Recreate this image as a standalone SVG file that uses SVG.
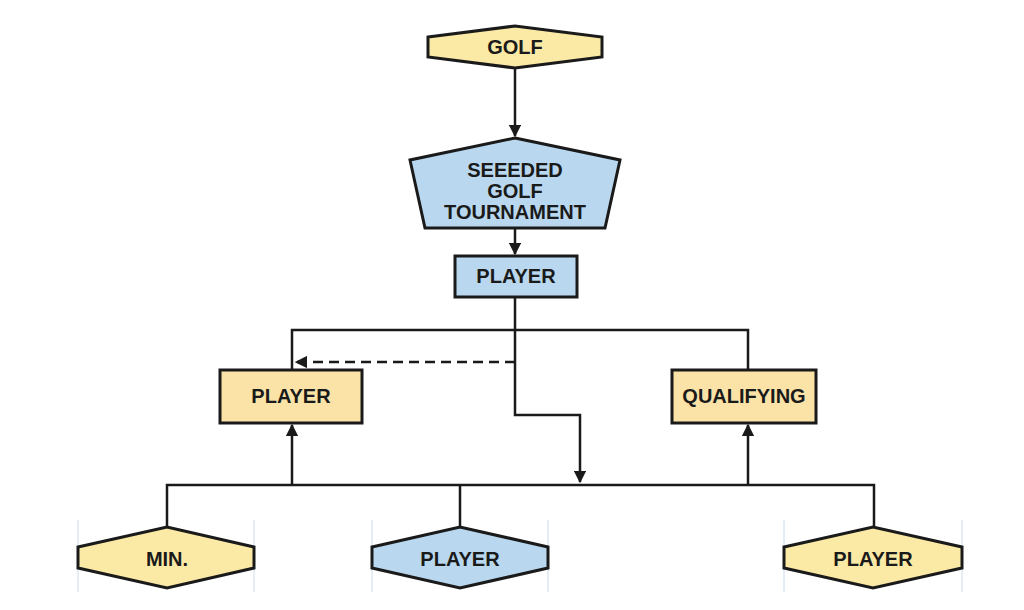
<svg xmlns="http://www.w3.org/2000/svg" width="1024" height="610" viewBox="0 0 1024 610">
<defs>
<style>
.y{fill:#fbe9a6;stroke:#1a1a1a;stroke-width:3}
.b{fill:#b9d8ef;stroke:#1a1a1a;stroke-width:3}
.o{fill:#fbe3a8;stroke:#1a1a1a;stroke-width:3}
.t{font-family:"Liberation Sans",Arial,sans-serif;font-weight:bold;font-size:20px;fill:#1a1a1a;text-anchor:middle}
.c{fill:none;stroke:#1a1a1a;stroke-width:2.5}
.g{stroke:#c9dcec;stroke-width:1}
</style>
<marker id="a" viewBox="0 0 10 10" refX="9" refY="5" markerWidth="5" markerHeight="5" orient="auto"><path d="M0,0L10,5L0,10z" fill="#1a1a1a"/></marker>
</defs>
<rect width="1024" height="610" fill="#fff"/>
<g id="guides">
<line class="g" x1="78" y1="520" x2="78" y2="592"/><line class="g" x1="254" y1="520" x2="254" y2="592"/>
<line class="g" x1="372" y1="520" x2="372" y2="592"/><line class="g" x1="548" y1="520" x2="548" y2="592"/>
<line class="g" x1="784" y1="520" x2="784" y2="592"/><line class="g" x1="962" y1="520" x2="962" y2="592"/>
</g>
<g id="connectors">
<path class="c" d="M515,68V136" marker-end="url(#a)"/>
<path class="c" d="M515,228V254" marker-end="url(#a)"/>
<path class="c" d="M515,297V330M292,370V330H748V370"/>
<path class="c" d="M515,362H296" stroke-dasharray="10,6" marker-end="url(#a)"/>
<path class="c" d="M515,330V415H580V482" marker-end="url(#a)"/>
<path class="c" d="M167,527V485H874V527M460,485V527"/>
<path class="c" d="M292,485V425" marker-end="url(#a)"/>
<path class="c" d="M748,485V425" marker-end="url(#a)"/>
</g>
<g id="golf"><polygon class="y" points="428,37 515,26 602,37 602,57 515,68 428,57"/><text class="t" x="515" y="54">GOLF</text></g>
<g id="seeded"><polygon class="b" points="515,138 620,160 605,228 425,228 410,160"/>
<text class="t" x="515" y="177">SEEEDED</text><text class="t" x="515" y="198">GOLF</text><text class="t" x="515" y="219">TOURNAMENT</text></g>
<g id="player1"><rect class="b" x="455" y="256" width="122" height="41"/><text class="t" x="516" y="283">PLAYER</text></g>
<g id="player2"><rect class="o" x="220" y="370" width="142" height="53"/><text class="t" x="291" y="403">PLAYER</text></g>
<g id="qualifying"><rect class="o" x="672" y="370" width="144" height="53"/><text class="t" x="744" y="403">QUALIFYING</text></g>
<g id="min"><polygon class="y" points="78,547 167,527 254,547 254,568 167,588 78,568"/><text class="t" x="167" y="566">MIN.</text></g>
<g id="player3"><polygon class="b" points="372,547 460,527 548,547 548,568 460,588 372,568"/><text class="t" x="460" y="566">PLAYER</text></g>
<g id="player4"><polygon class="y" points="784,547 873,527 962,547 962,568 873,588 784,568"/><text class="t" x="873" y="566">PLAYER</text></g>
</svg>
